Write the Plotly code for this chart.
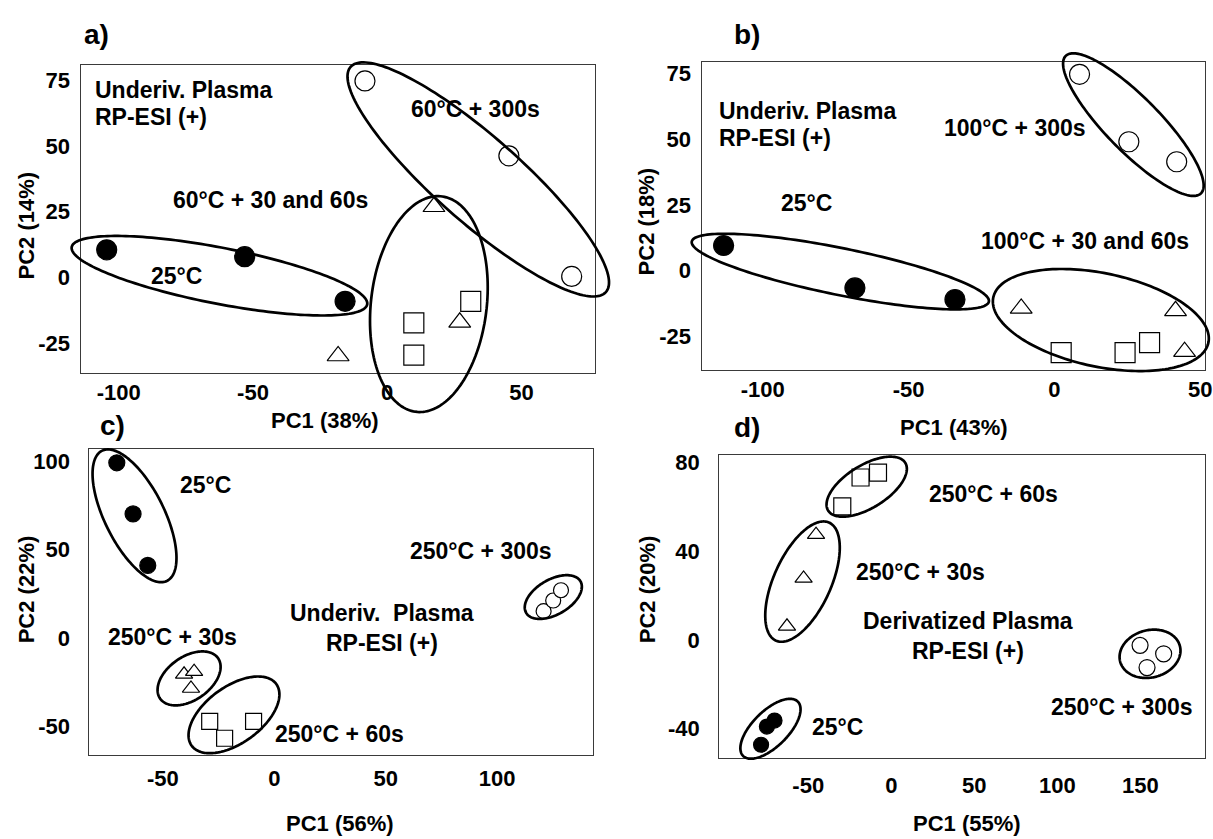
import numpy as np
import plotly.graph_objects as go

# ---------------- data (PC scores) ----------------
# Panel a  (60 °C)
a_c25_x = [-104.5, -53.1, -15.7];  a_c25_y = [10.4, 7.8, -9.2]
a_s300_x = [-8.3, 45.3, 68.7];     a_s300_y = [74.7, 46.2, 0.3]
a_s30_x = [17.4, 27.0, -18.3];     a_s30_y = [26.8, -17.2, -30.0]
a_s60_x = [9.9, 9.9, 31.1];        a_s60_y = [-17.4, -29.7, -9.2]
# Panel b  (100 °C)
b_c25_x = [-113.4, -68.4, -34.1];  b_c25_y = [9.6, -6.5, -10.9]
b_s300_x = [8.6, 25.5, 41.9];      b_s300_y = [74.6, 49.0, 41.4]
b_s30_x = [-11.4, 41.5, 44.6];     b_s30_y = [-14.3, -15.2, -30.7]
b_s60_x = [2.3, 24.2, 32.6];       b_s60_y = [-31.1, -31.1, -27.3]
# Panel c  (250 °C, underivatized)
c_c25_x = [-70.7, -63.4, -56.8];   c_c25_y = [99.1, 70.2, 41.1]
c_s300_x = [120.9, 125.2, 128.7];  c_s300_y = [15.3, 21.3, 27.1]
c_s30_x = [-40.5, -36.0, -37.4];   c_s30_y = [-20.4, -18.9, -28.4]
c_s60_x = [-29.0, -22.3, -9.3];    c_s60_y = [-47.0, -56.5, -47.0]
# Panel d  (250 °C, derivatized)
d_c25_x = [-70.3, -74.9, -78.4];   d_c25_y = [-36.3, -39.0, -47.2]
d_s300_x = [149.8, 164.0, 154.0];  d_s300_y = [-2.4, -6.2, -12.4]
d_s30_x = [-45.3, -52.8, -62.8];   d_s30_y = [47.5, 27.8, 6.2]
d_s60_x = [-29.5, -18.5, -8.0];    d_s60_y = [60.3, 73.3, 75.5]

# axis tick values
a_xticks = [-100, -50, 0, 50];      a_yticks = [-25, 0, 25, 50, 75]
b_xticks = [-100, -50, 0, 50];      b_yticks = [-25, 0, 25, 50, 75]
c_xticks = [-50, 0, 50, 100];       c_yticks = [-50, 0, 50, 100]
d_xticks = [-50, 0, 50, 100, 150];  d_yticks = [-40, 0, 40, 80]

# axis titles
a_titles = ["PC1 (38%)", "PC2 (14%)"]
b_titles = ["PC1 (43%)", "PC2 (18%)"]
c_titles = ["PC1 (56%)", "PC2 (22%)"]
d_titles = ["PC1 (55%)", "PC2 (20%)"]

# group ellipses: centre, semi-axis vector 1, semi-axis vector 2 (data units)
a_ell = [((-62.5, 0.55), (55, -11.05), (2.6, 10.35)),
         ((33.9, 37.2), (47.1, -43.3), (12.4, 10.5)),
         ((15.5, -10.25), (4.3, 41.05), (21.5, -1.75))]
b_ell = [((-73.4, -0.3), (50.9, -11.5), (2.1, 8.6)),
         ((27.05, 55.5), (22.85, -26.4), (7.65, 6.0)),
         ((15.9, -18.7), (36.7, -9.3), (4.8, 17.0))]
c_ell = [((-62.75, 69.15), (14.05, -37.05), (12.55, 5.85)),
         ((125.25, 23.25), (11.65, 9.85), (5.35, -7.45)),
         ((-38.25, -22.7), (12.15, 12.65), (7.25, -8.5)),
         ((-18.1, -43.3), (18.4, 18.3), (8.8, -11.6))]
d_ell = [((-14.8, 69.15), (22.4, 11.55), (9.1, -7.05)),
         ((-53.45, 26.35), (15.15, 26.85), (16.55, -3.85)),
         ((-72.75, -40.0), (15.75, 12.7), (8.95, -4.6)),
         ((155.8, -6.2), (16.5, 6.0), (8.0, -9.1))]

# text labels (x, y, text, anchor) in data units
a_labels = [(-109.6, 71.4, "Underiv. Plasma", "left"), (-109.6, 61.0, "RP-ESI (+)", "left"),
            (32.8, 64.0, "60°C + 300s", "center"), (-43.4, 29.3, "60°C + 30 and 60s", "center"),
            (-78.4, 0.5, "25°C", "center")]
b_labels = [(-115.7, 60.8, "Underiv. Plasma", "left"), (-115.7, 50.3, "RP-ESI (+)", "left"),
            (-13.4, 54.2, "100°C + 300s", "center"), (-85.0, 25.9, "25°C", "center"),
            (10.3, 11.2, "100°C + 30 and 60s", "center")]
c_labels = [(-30.8, 86.5, "25°C", "center"), (92.8, 49.4, "250°C + 300s", "center"),
            (48.2, 14.3, "Underiv.  Plasma", "center"), (48.2, -2.6, "RP-ESI (+)", "center"),
            (-45.7, 0.6, "250°C + 30s", "center"), (29.1, -54.1, "250°C + 60s", "center")]
d_labels = [(61.8, 65.8, "250°C + 60s", "center"), (17.6, 30.8, "250°C + 30s", "center"),
            (46.0, 8.4, "Derivatized Plasma", "center"), (46.0, -5.0, "RP-ESI (+)", "center"),
            (139.0, -30.3, "250°C + 300s", "center"), (-32.1, -39.3, "25°C", "center")]

# ---------------- layout geometry ----------------
W, H = 1213, 839
FONT = "Liberation Sans, Arial, Helvetica, sans-serif"

panels = {
    "a": dict(ax="", dom_x=(82, 599), dom_y=(60, 370), xr=(-113.9, 77.4), yr=(-36.4, 80.9),
              xt=a_xticks, yt=a_yticks, titles=a_titles, ell=a_ell, labels=a_labels,
              msize=(20, 20, 19, 20), xtitle=(327, 418), ytitle=(27, 222), letter=(97, 30),
              xstand=0, ystand=6,
              series=[(a_c25_x, a_c25_y), (a_s300_x, a_s300_y), (a_s30_x, a_s30_y), (a_s60_x, a_s60_y)]),
    "b": dict(ax="2", dom_x=(707, 1213), dom_y=(57, 367), xr=(-120.7, 51.6), yr=(-37.6, 79.4),
              xt=b_xticks, yt=b_yticks, titles=b_titles, ell=b_ell, labels=b_labels,
              msize=(20, 20, 19, 20), xtitle=(960, 425), ytitle=(651, 218), letter=(752, 30),
              xstand=0, ystand=6,
              series=[(b_c25_x, b_c25_y), (b_s300_x, b_s300_y), (b_s30_x, b_s30_y), (b_s60_x, b_s60_y)]),
    "c": dict(ax="3", dom_x=(90, 597), dom_y=(447, 754), xr=(-83.0, 143.1), yr=(-65.7, 106.7),
              xt=c_xticks, yt=c_yticks, titles=c_titles, ell=c_ell, labels=c_labels,
              msize=(16, 15, 15, 16), xtitle=(342, 823), ytitle=(27, 588), letter=(113, 423),
              xstand=4, ystand=14,
              series=[(c_c25_x, c_c25_y), (c_s300_x, c_s300_y), (c_s30_x, c_s30_y), (c_s60_x, c_s60_y)]),
    "d": dict(ax="4", dom_x=(724, 1213), dom_y=(453, 758), xr=(-103.6, 188.9), yr=(-53.4, 83.3),
              xt=d_xticks, yt=d_yticks, titles=d_titles, ell=d_ell, labels=d_labels,
              msize=(15, 16, 15, 17), xtitle=(973, 823), ytitle=(652, 588), letter=(752, 425),
              xstand=7, ystand=14,
              series=[(d_c25_x, d_c25_y), (d_s300_x, d_s300_y), (d_s30_x, d_s30_y), (d_s60_x, d_s60_y)]),
}

symbols = ["circle", "circle", "triangle-up", "square"]
fills = ["black", "white", "white", "white"]

fig = go.Figure()
shapes, annotations = [], []
layout = dict(width=W, height=H, margin=dict(l=0, r=0, t=0, b=0),
              paper_bgcolor="white", plot_bgcolor="white", showlegend=False)

t = np.linspace(0, 2 * np.pi, 181)

for key, p in panels.items():
    sx, sy = "x" + p["ax"], "y" + p["ax"]
    xd = (p["dom_x"][0] / W, p["dom_x"][1] / W)
    yd = (1 - p["dom_y"][1] / H, 1 - p["dom_y"][0] / H)
    common = dict(showgrid=False, zeroline=False, showline=True, mirror=True,
                  linecolor="#3a3a3a", linewidth=1, ticks="", ticklabeloverflow="allow",
                  tickfont=dict(family=FONT, size=22, color="black", weight="bold"))
    layout["xaxis" + p["ax"]] = dict(domain=xd, range=list(p["xr"]), anchor=sy,
                                     tickvals=p["xt"], ticktext=[str(v) for v in p["xt"]],
                                     ticklabelstandoff=p["xstand"], **common)
    layout["yaxis" + p["ax"]] = dict(domain=yd, range=list(p["yr"]), anchor=sx,
                                     tickvals=p["yt"], ticktext=[str(v) for v in p["yt"]],
                                     ticklabelstandoff=p["ystand"], **common)

    for (xs, ys), sym, fc, ms in zip(p["series"], symbols, fills, p["msize"]):
        fig.add_trace(go.Scatter(x=xs, y=ys, mode="markers", xaxis=sx, yaxis=sy, cliponaxis=False,
                                 marker=dict(symbol=sym, size=ms, color=fc,
                                             line=dict(color="black", width=1.2))))

    # ellipses, mapped through the axis range/domain to paper space (so they are not clipped)
    def to_paper(xv, yv, p=p, xd=xd, yd=yd):
        fx = (np.asarray(xv) - p["xr"][0]) / (p["xr"][1] - p["xr"][0])
        fy = (np.asarray(yv) - p["yr"][0]) / (p["yr"][1] - p["yr"][0])
        return xd[0] + fx * (xd[1] - xd[0]), yd[0] + fy * (yd[1] - yd[0])

    for (c, u, v) in p["ell"]:
        ex = c[0] + u[0] * np.cos(t) + v[0] * np.sin(t)
        ey = c[1] + u[1] * np.cos(t) + v[1] * np.sin(t)
        px, py = to_paper(ex, ey)
        path = "M " + " L ".join(f"{a:.5f},{b:.5f}" for a, b in zip(px, py)) + " Z"
        shapes.append(dict(type="path", path=path, xref="paper", yref="paper",
                           line=dict(color="black", width=2.7), fillcolor="rgba(0,0,0,0)", layer="above"))

    for (lx, ly, txt, al) in p["labels"]:
        annotations.append(dict(x=lx, y=ly, xref=sx, yref=sy, text=txt, showarrow=False,
                                xanchor=al, yanchor="middle",
                                font=dict(family=FONT, size=23, color="black", weight="bold")))

    # axis titles
    annotations.append(dict(x=p["xtitle"][0] / W, y=1 - p["xtitle"][1] / H, xref="paper", yref="paper",
                            text=p["titles"][0], showarrow=False, xanchor="center", yanchor="middle",
                            font=dict(family=FONT, size=22, color="black", weight="bold")))
    annotations.append(dict(x=p["ytitle"][0] / W, y=1 - p["ytitle"][1] / H, xref="paper", yref="paper",
                            text=p["titles"][1], showarrow=False, textangle=-90,
                            xanchor="center", yanchor="middle",
                            font=dict(family=FONT, size=22, color="black", weight="bold")))
    # panel letter
    annotations.append(dict(x=p["letter"][0] / W, y=1 - p["letter"][1] / H, xref="paper", yref="paper",
                            text=key + ")", showarrow=False, xanchor="center", yanchor="middle",
                            font=dict(family=FONT, size=28, color="black", weight="bold")))

layout["shapes"] = shapes
layout["annotations"] = annotations
fig.update_layout(**layout)
fig.write_html("out.html")
